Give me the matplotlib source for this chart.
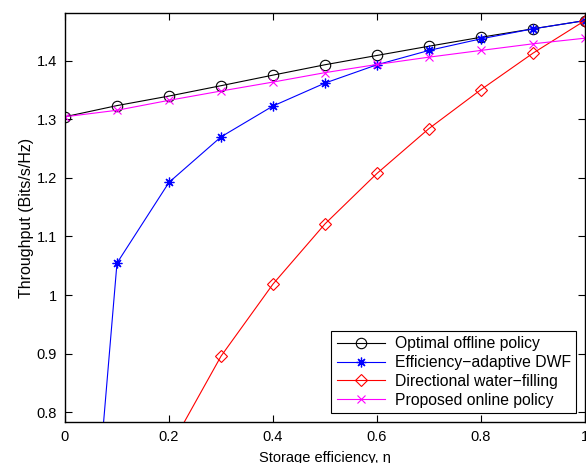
import numpy as np
import matplotlib.pyplot as plt

plt.rcParams["font.family"] = ["Liberation Sans", "DejaVu Sans"]
plt.rcParams["font.size"] = 10.5

eta = [0.0, 0.1, 0.2, 0.3, 0.4, 0.5, 0.6, 0.7, 0.8, 0.9, 1.0]

optimal_offline = [1.3046, 1.3237, 1.3400, 1.3577, 1.3758, 1.3935, 1.4094, 1.4252, 1.4405, 1.4549, 1.4690]
adaptive_dwf = [0.0, 1.0545, 1.1925, 1.2702, 1.3230, 1.3622, 1.3935, 1.4180, 1.4378, 1.4549, 1.4690]
proposed_online = [1.3046, 1.3157, 1.3327, 1.3486, 1.3639, 1.3800, 1.3940, 1.4065, 1.4180, 1.4293, 1.4389]

eta_dwf = [0.2, 0.3, 0.4, 0.5, 0.6, 0.7, 0.8, 0.9, 1.0]
directional_wf = [0.736, 0.8954, 1.0187, 1.1215, 1.2078, 1.2845, 1.3510, 1.4133, 1.4690]

fig = plt.figure(figsize=(5.86, 4.63), dpi=100)
ax = fig.add_axes([0.1109, 0.0886, 0.8874, 0.8834])

lw = 0.8
ax.plot(eta, optimal_offline, color="k", marker="o", ms=7.5, mfc="none", mew=0.8, lw=lw,
        label="Optimal offline policy")
ax.plot(eta, adaptive_dwf, color="#0000ff", marker=(8, 2, 0), ms=7, mew=0.9, lw=lw,
        label="Efficiency\u2212adaptive DWF")
ax.plot(eta_dwf, directional_wf, color="#ff0000", marker="D", ms=6, mfc="none", mew=0.8, lw=lw,
        label="Directional water\u2212filling")
ax.plot(eta, proposed_online, color="#ff00ff", marker="x", ms=6, mew=0.8, lw=lw,
        label="Proposed online policy")

ax.set_xlim(0, 1)
ax.set_ylim(0.783, 1.482)
ax.set_xticks([0, 0.2, 0.4, 0.6, 0.8, 1])
ax.set_xticklabels(["0", "0.2", "0.4", "0.6", "0.8", "1"])
ax.set_yticks([0.8, 0.9, 1.0, 1.1, 1.2, 1.3, 1.4])
ax.set_yticklabels(["0.8", "0.9", "1", "1.1", "1.2", "1.3", "1.4"])
ax.tick_params(direction="in", top=True, right=True, length=5, width=0.8, pad=6)
for s in ax.spines.values():
    s.set_linewidth(1.0)

ax.set_xlabel("Storage efficiency, \u03b7", labelpad=5)
ax.set_ylabel("Throughput (Bits/s/Hz)", fontsize=11.5, labelpad=2)

leg = ax.legend(loc="lower right", fancybox=False, edgecolor="k", framealpha=1, fontsize=11.3,
                borderaxespad=0.55, handlelength=3.1, labelspacing=0.25, borderpad=0.35,
                handletextpad=0.6)
leg.get_frame().set_linewidth(0.8)

plt.savefig("out.png")
